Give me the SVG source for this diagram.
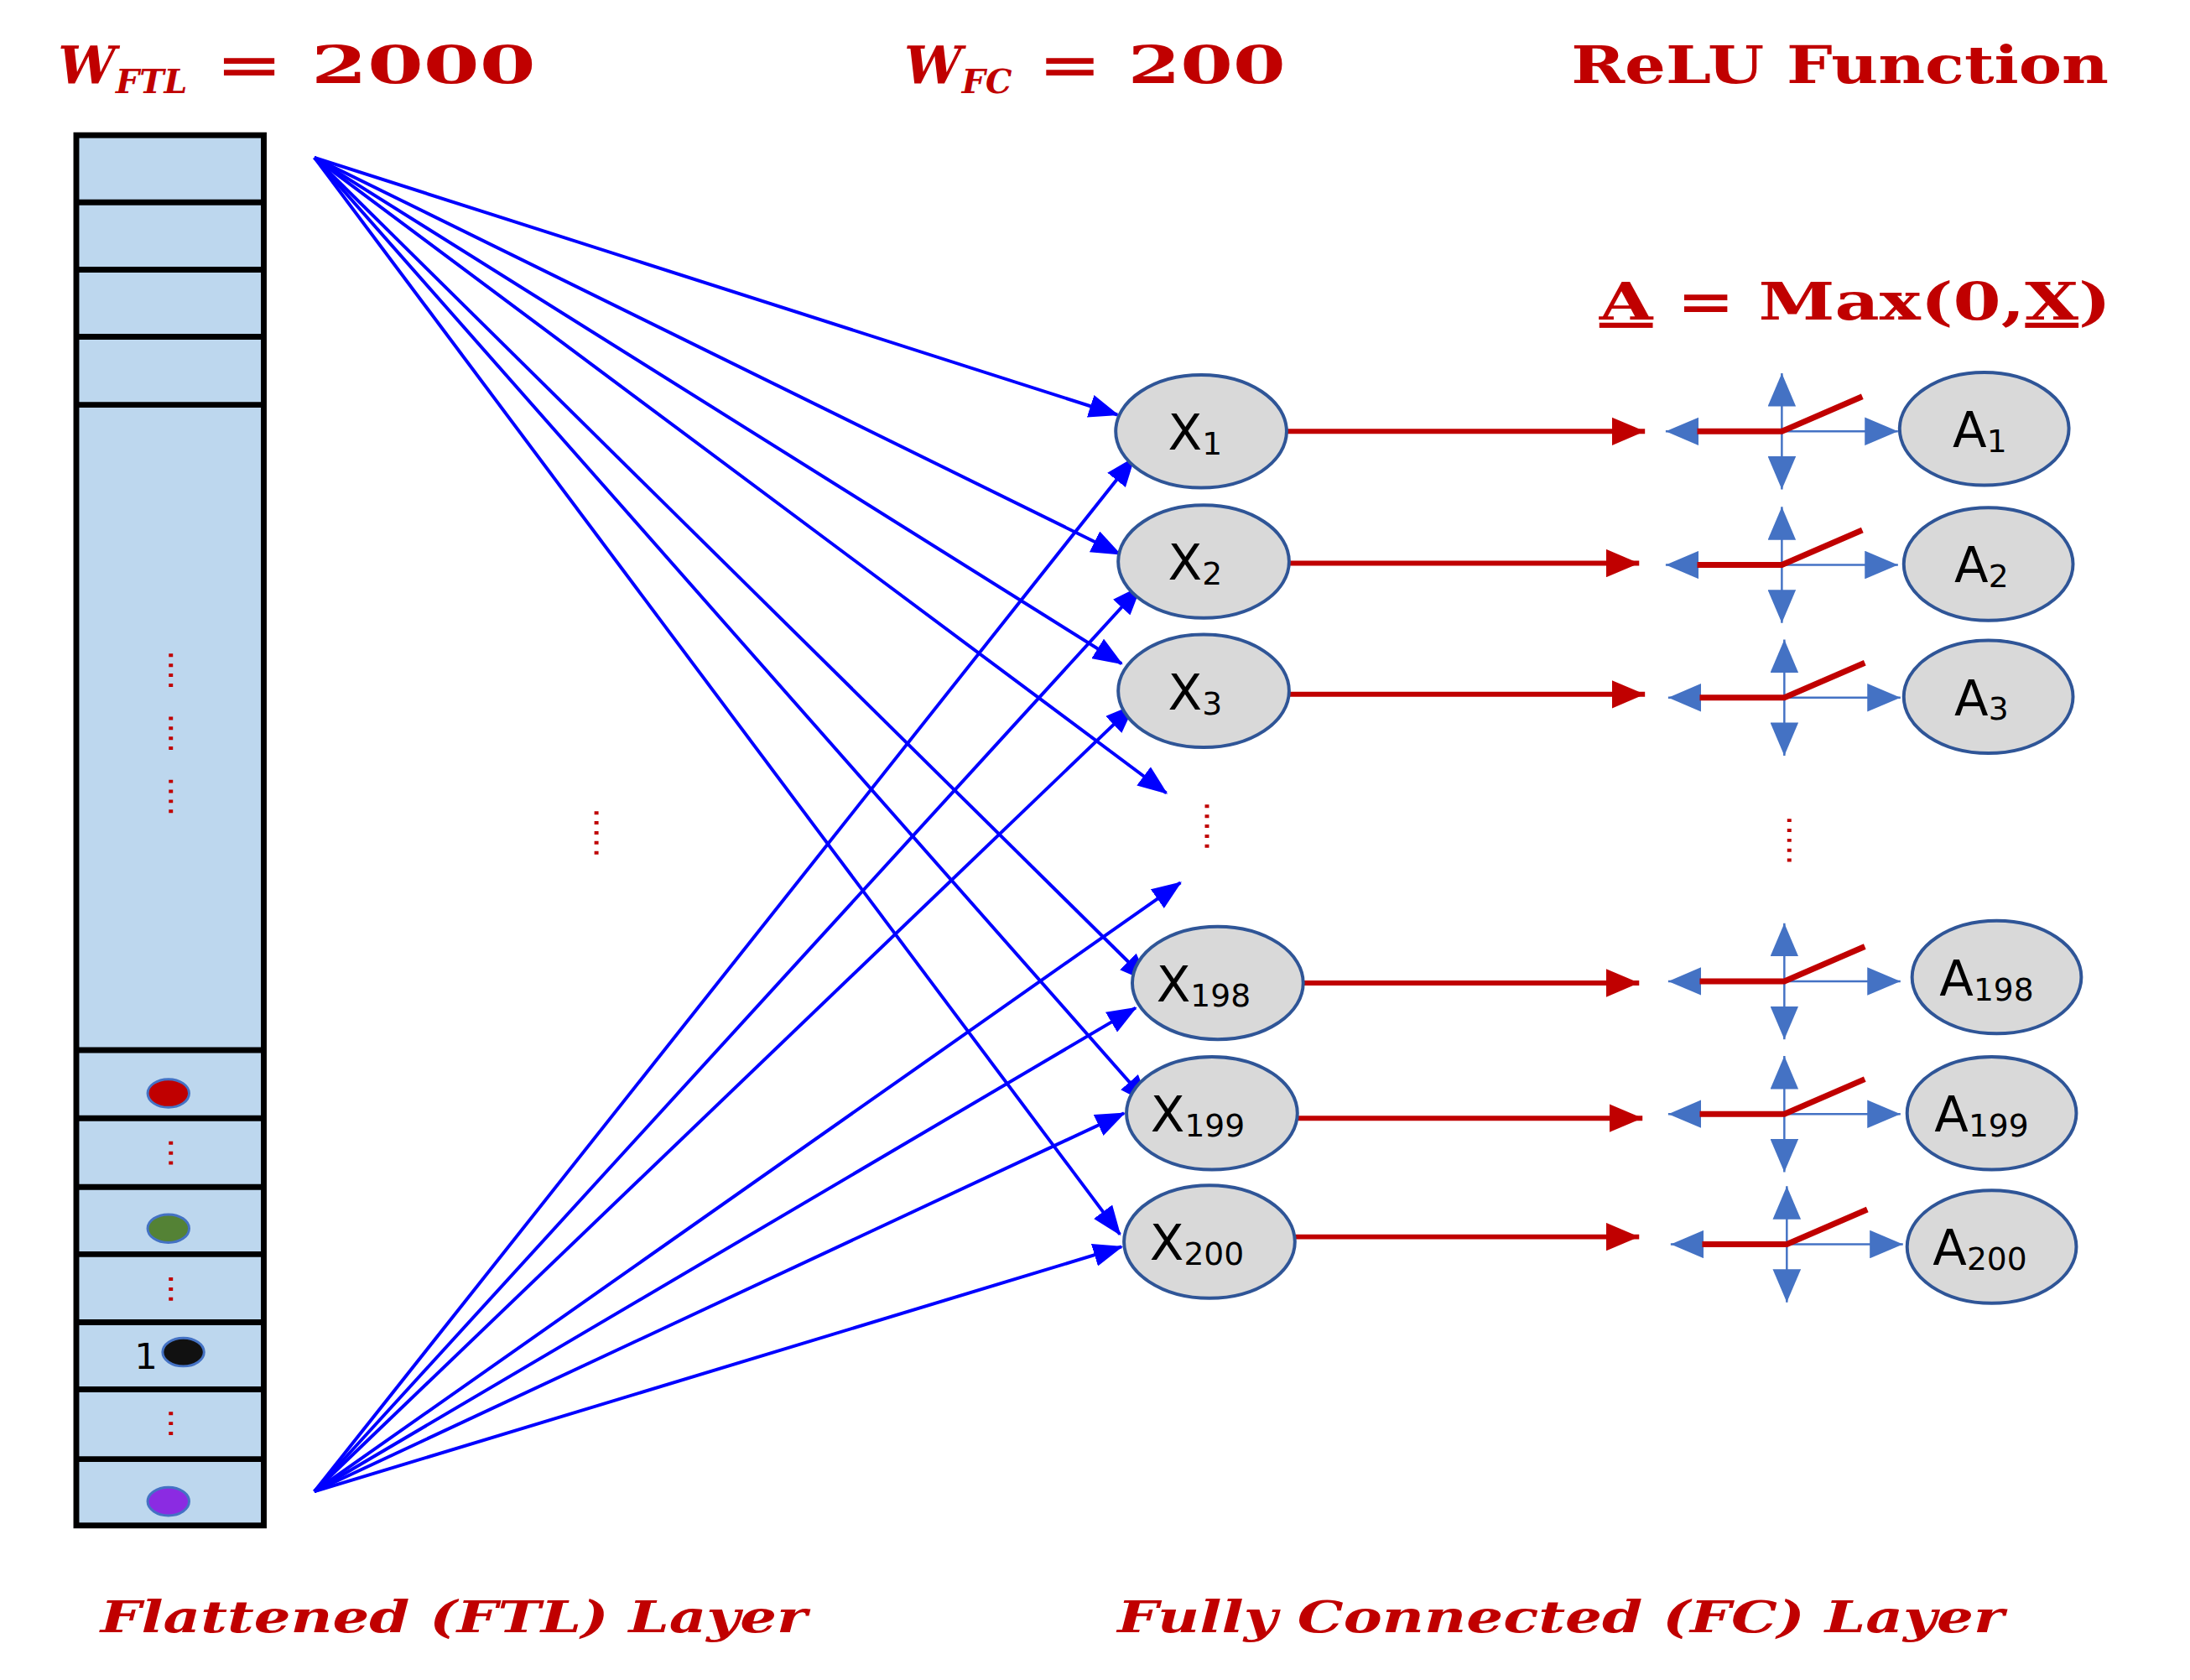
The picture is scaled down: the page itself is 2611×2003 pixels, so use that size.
<svg xmlns="http://www.w3.org/2000/svg" width="2611" height="2003" viewBox="0 0 2611 2003">
<style>
.t{font-family:"DejaVu Serif","Liberation Serif",serif;font-weight:bold;fill:#C00000}
.n{fill:#D9D9D9;stroke:#2F5597;stroke-width:4}
.nl{font-family:"DejaVu Sans","Liberation Sans",sans-serif;font-size:60px;fill:#000}
.sub{font-size:38px}
.bl{stroke:#0000FF;stroke-width:4;fill:none}
.rd{stroke:#C00000;stroke-width:6;fill:none}
.rdot{stroke:#C00000;stroke-width:5;stroke-dasharray:4 8;fill:none}
.rb{stroke:#4472C4;stroke-width:2.5}
.sep{stroke:#000;stroke-width:7}
</style>
<defs>
<marker id="ab" markerUnits="userSpaceOnUse" markerWidth="36" markerHeight="28" refX="34" refY="14" orient="auto"><path d="M0,0 L36,14 L0,28 Z" fill="#0000FF"/></marker>
<marker id="ar" markerUnits="userSpaceOnUse" markerWidth="40" markerHeight="34" refX="40" refY="17" orient="auto"><path d="M0,0 L40,17 L0,34 Z" fill="#C00000"/></marker>
<marker id="abl" markerUnits="userSpaceOnUse" markerWidth="40" markerHeight="34" refX="40" refY="17" orient="auto"><path d="M0,0 L40,17 L0,34 Z" fill="#4472C4"/></marker>
<g id="relu">
<line x1="0" y1="0" x2="-140" y2="0" class="rb" marker-end="url(#abl)"/>
<line x1="0" y1="0" x2="0" y2="-70" class="rb" marker-end="url(#abl)"/>
<line x1="0" y1="0" x2="0" y2="70" class="rb" marker-end="url(#abl)"/>
<line x1="0" y1="0" x2="140" y2="0" class="rb" marker-end="url(#abl)"/>
<polyline points="-102,0 0,0 97,-42" stroke="#C00000" stroke-width="7" fill="none"/>
</g>
</defs>
<rect width="2611" height="2003" fill="#fff"/>
<g transform="scale(0.989)">
<text class="t" x="70" y="100" font-size="62"><tspan font-style="italic">W</tspan><tspan font-style="italic" font-size="40" dy="12">FTL</tspan><tspan dy="-12" textLength="420" lengthAdjust="spacingAndGlyphs"> = 2000</tspan></text>
<text class="t" x="1090" y="100" font-size="62"><tspan font-style="italic">W</tspan><tspan font-style="italic" font-size="40" dy="12">FC</tspan><tspan dy="-12" textLength="330" lengthAdjust="spacingAndGlyphs"> = 200</tspan></text>
<text class="t" x="1894" y="100" font-size="62" textLength="648" lengthAdjust="spacingAndGlyphs">ReLU Function</text>
<text class="t" x="1928" y="385" font-size="62" textLength="617" lengthAdjust="spacingAndGlyphs"><tspan text-decoration="underline">A</tspan> =  Max(0,<tspan text-decoration="underline">X</tspan>)</text>

<g id="ftl">
<rect x="92" y="163" width="226" height="1676" fill="#BDD7EE" stroke="#000" stroke-width="7"/>
<line class="sep" x1="92" y1="244" x2="318" y2="244"/>
<line class="sep" x1="92" y1="325" x2="318" y2="325"/>
<line class="sep" x1="92" y1="406" x2="318" y2="406"/>
<line class="sep" x1="92" y1="488" x2="318" y2="488"/>
<line class="sep" x1="92" y1="1266" x2="318" y2="1266"/>
<line class="sep" x1="92" y1="1348" x2="318" y2="1348"/>
<line class="sep" x1="92" y1="1431" x2="318" y2="1431"/>
<line class="sep" x1="92" y1="1512" x2="318" y2="1512"/>
<line class="sep" x1="92" y1="1594" x2="318" y2="1594"/>
<line class="sep" x1="92" y1="1675" x2="318" y2="1675"/>
<line class="sep" x1="92" y1="1759" x2="318" y2="1759"/>
<line class="rdot" x1="206" y1="788" x2="206" y2="828"/>
<line class="rdot" x1="206" y1="864" x2="206" y2="904"/>
<line class="rdot" x1="206" y1="940" x2="206" y2="980"/>
<line class="rdot" x1="206" y1="1376" x2="206" y2="1406"/>
<line class="rdot" x1="206" y1="1540" x2="206" y2="1570"/>
<line class="rdot" x1="206" y1="1702" x2="206" y2="1732"/>
<ellipse cx="203" cy="1318" rx="25" ry="17" fill="#C00000" stroke="#4472C4" stroke-width="3"/>
<ellipse cx="203" cy="1481" rx="25" ry="17" fill="#548235" stroke="#4472C4" stroke-width="3"/>
<ellipse cx="221" cy="1630" rx="25" ry="17" fill="#111" stroke="#4472C4" stroke-width="3"/>
<text x="162" y="1650" font-family="DejaVu Sans,sans-serif" font-size="44" fill="#000">1</text>
<ellipse cx="203" cy="1810" rx="25" ry="17" fill="#8B2BE2" stroke="#4472C4" stroke-width="3"/>
</g>

<g id="connectors">
<g marker-end="url(#ab)">
<line class="bl" x1="379" y1="190" x2="1347" y2="500"/>
<line class="bl" x1="379" y1="190" x2="1350" y2="668"/>
<line class="bl" x1="379" y1="190" x2="1352" y2="800"/>
<line class="bl" x1="379" y1="190" x2="1406" y2="956"/>
<line class="bl" x1="379" y1="190" x2="1384" y2="1183"/>
<line class="bl" x1="379" y1="190" x2="1384" y2="1330"/>
<line class="bl" x1="379" y1="190" x2="1350" y2="1488"/>
<line class="bl" x1="379" y1="1798" x2="1367" y2="552"/>
<line class="bl" x1="379" y1="1798" x2="1375" y2="707"/>
<line class="bl" x1="379" y1="1798" x2="1367" y2="850"/>
<line class="bl" x1="379" y1="1798" x2="1423" y2="1064"/>
<line class="bl" x1="379" y1="1798" x2="1369" y2="1215"/>
<line class="bl" x1="379" y1="1798" x2="1355" y2="1342"/>
<line class="bl" x1="379" y1="1798" x2="1352" y2="1503"/>
</g>
<g marker-end="url(#ar)">
<line class="rd" x1="1552" y1="520" x2="1983" y2="520"/>
<line class="rd" x1="1555" y1="679" x2="1976" y2="679"/>
<line class="rd" x1="1555" y1="837" x2="1983" y2="837"/>
<line class="rd" x1="1572" y1="1185" x2="1976" y2="1185"/>
<line class="rd" x1="1565" y1="1348" x2="1980" y2="1348"/>
<line class="rd" x1="1562" y1="1491" x2="1976" y2="1491"/>
</g>
<line class="rdot" x1="719" y1="978" x2="719" y2="1035"/>
<line class="rdot" x1="1455" y1="970" x2="1455" y2="1027"/>
<line class="rdot" x1="2157" y1="987" x2="2157" y2="1044"/>
</g>

<use href="#relu" x="2148" y="520"/>
<use href="#relu" x="2148" y="681"/>
<use href="#relu" x="2151" y="841"/>
<use href="#relu" x="2151" y="1183"/>
<use href="#relu" x="2151" y="1343"/>
<use href="#relu" x="2154" y="1500"/>

<g id="x1"><ellipse class="n" cx="1448" cy="520" rx="103" ry="68"/><text class="nl" x="1408" y="542">X<tspan class="sub" dy="6">1</tspan></text></g>
<g id="x2"><ellipse class="n" cx="1451" cy="677" rx="103" ry="68"/><text class="nl" x="1408" y="699">X<tspan class="sub" dy="6">2</tspan></text></g>
<g id="x3"><ellipse class="n" cx="1451" cy="833" rx="103" ry="68"/><text class="nl" x="1408" y="855">X<tspan class="sub" dy="6">3</tspan></text></g>
<g id="x198"><ellipse class="n" cx="1468" cy="1185" rx="103" ry="68"/><text class="nl" x="1394" y="1207">X<tspan class="sub" dy="6">198</tspan></text></g>
<g id="x199"><ellipse class="n" cx="1461" cy="1342" rx="103" ry="68"/><text class="nl" x="1387" y="1364">X<tspan class="sub" dy="6">199</tspan></text></g>
<g id="x200"><ellipse class="n" cx="1458" cy="1497" rx="103" ry="68"/><text class="nl" x="1386" y="1519">X<tspan class="sub" dy="6">200</tspan></text></g>

<g id="a1"><ellipse class="n" cx="2392" cy="517" rx="102" ry="68"/><text class="nl" x="2354" y="539">A<tspan class="sub" dy="6">1</tspan></text></g>
<g id="a2"><ellipse class="n" cx="2397" cy="680" rx="102" ry="68"/><text class="nl" x="2356" y="702">A<tspan class="sub" dy="6">2</tspan></text></g>
<g id="a3"><ellipse class="n" cx="2397" cy="840" rx="102" ry="68"/><text class="nl" x="2356" y="862">A<tspan class="sub" dy="6">3</tspan></text></g>
<g id="a198"><ellipse class="n" cx="2407" cy="1178" rx="102" ry="68"/><text class="nl" x="2338" y="1200">A<tspan class="sub" dy="6">198</tspan></text></g>
<g id="a199"><ellipse class="n" cx="2401" cy="1342" rx="102" ry="68"/><text class="nl" x="2332" y="1364">A<tspan class="sub" dy="6">199</tspan></text></g>
<g id="a200"><ellipse class="n" cx="2401" cy="1503" rx="102" ry="68"/><text class="nl" x="2330" y="1525">A<tspan class="sub" dy="6">200</tspan></text></g>

<text class="t" x="121" y="1968" font-size="52" font-style="italic" textLength="852" lengthAdjust="spacingAndGlyphs">Flattened (FTL) Layer</text>
<text class="t" x="1347" y="1968" font-size="52" font-style="italic" textLength="1069" lengthAdjust="spacingAndGlyphs">Fully Connected (FC) Layer</text>
</g>
</svg>
